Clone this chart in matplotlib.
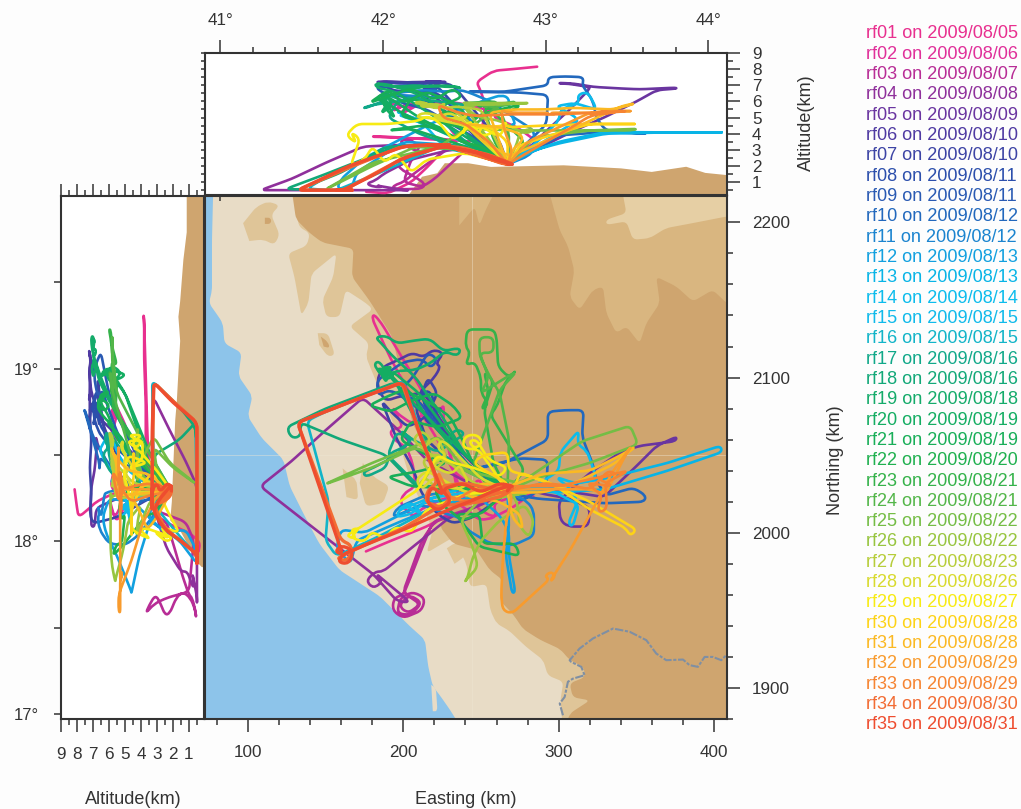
import numpy as np
import matplotlib
matplotlib.use('Agg')
import matplotlib.pyplot as plt
from matplotlib.path import Path
from matplotlib.patches import PathPatch
from matplotlib.ticker import MultipleLocator, FixedLocator

plt.rcParams['font.family'] = ['Liberation Sans', 'DejaVu Sans']

# Flight names and dates (legend on the right)
flight_names = ['rf%02d' % i for i in range(1, 36)]
flight_dates = ['2009/08/05', '2009/08/06', '2009/08/07', '2009/08/08', '2009/08/09', '2009/08/10', '2009/08/10',
                '2009/08/11', '2009/08/11', '2009/08/12', '2009/08/12', '2009/08/13', '2009/08/13', '2009/08/14',
                '2009/08/15', '2009/08/15', '2009/08/16', '2009/08/16', '2009/08/18', '2009/08/19', '2009/08/19',
                '2009/08/20', '2009/08/21', '2009/08/21', '2009/08/22', '2009/08/22', '2009/08/23', '2009/08/26',
                '2009/08/27', '2009/08/28', '2009/08/28', '2009/08/29', '2009/08/29', '2009/08/30', '2009/08/31']
flight_colors = ['#e8308f', '#e0309a', '#b82d96', '#8f309b', '#6a35a0', '#4f3aa2', '#3d44a5', '#2c4fac', '#2a5ab3',
                 '#2268bd', '#1b84cf', '#12a0df', '#08b4e6', '#0cbcec', '#10baea', '#12b4c8', '#10a889', '#12a878',
                 '#14ab6a', '#14ad62', '#18ae58', '#1fb04f', '#35b24a', '#53b649', '#74bd45', '#97c53f', '#b7cd3a',
                 '#d8da2e', '#f7eb14', '#fdd317', '#fbb923', '#f89b2d', '#f68432', '#f26c34', '#ee4d2f']

# Flight tracks: (easting km, northing km, altitude km)
rf01 = [(176,1988,.4),(190,1994,.3),(205,2000,1.0),(215,2004,1.9),(226,2010,3.0),(236,2020,3.4),(228,2064,3.6),(207,2100,3.7),
        (186,2135,3.8),(181,2141,3.85),(180,2138,3.8),(192,2112,3.8),(208,2083,3.7),(222,2060,3.7),(232,2040,3.6),(244,2030,3.5),
        (249,2035,3.8),(252,2028,5),(252,2024,6),(249,2020,6.8),(247,2016,7.2),(258,2010,7.9),(270,2016,8.0),(286,2028,8.15)]
rf02 = [(267,2027,2.1),(252,2024,3.0),(240,2020,3.4),(232,2040,4),(226,2070,5),(226,2083,5.6),(223,2077,5.9),(215,2079,5.7),
        (206,2070,5.9),(196,2077,5.6),(193,2081,5.4),(200,2068,5.7),(191,2066,5.9),(194,2060,5.5),(202,2055,5.8),(206,2045,5.6),
        (208,2030,5.9),(200,2025,5.5),(198,2019,5.2),(206,2010,5.6),(211,2015,5.9),(228,2023,6.0),(241,2015,5.8),(249,2008,5.6),
        (260,2010,5.3),(258,2019,5.0),(273,2024,4.4),(286,2023,3.5),(277,2025,3),(267,2027,2.1)]
rf03 = [(267,2027,2.1),(250,2018,3.0),(232,2012,3.3),(219,2007,2.4),(212,1990,1.9),(205,1972,1.4),(200,1960,1.0),(194,1958,.8),
        (193,1950,.6),(200,1945,.55),(212,1950,.6),(214,1958,.9),(206,1962,1.4),(198,1958,1.8),(196,1948,2.2),(205,1947,2.5),
        (212,1955,2.8),(204,1960,3.1),(197,1953,3.5),(203,1948,3.7),(211,1954,3.2),(205,1958,2.4),(200,1962,1.0),(212,1995,.7),
        (220,2007,1.2),(240,2014,3.0),(267,2027,2.1)]
rf04 = [(267,2027,2.1),(250,2018,3),(230,2010,3),(205,1990,2.4),(187,1975,1.5),(182,1975,1.1),(176,1969,.9),(181,1964,.7),
        (187,1969,.7),(182,1974,.8),(200,1959,.5),(204,1955,.5),(196,1956,.5),(181,1973,.5),(145,2001,.5),(108,2030,.5),
        (128,2046,1.2),(150,2066,2.2),(174,2087,3.2),(197,2066,3.3),(215,2047,3.2),(240,2033,3.1),(267,2027,2.1)]
rf05 = [(267,2027,2.1),(285,2028,3),(310,2026,4.2),(329,2023,5),(350,2043,6),(363,2056,6.7),(376,2062,6.8),(375,2059,6.85),
        (352,2056,6.75),(340,2052,6.8),(322,2040,6.9),(310,2030,7.1),(300,2020,7.15),(301,2008,7.1),(306,2004,7.1),(319,2004,6.9),
        (320,2016,6.8),(307,2022,5.5),(290,2025,4),(280,2028,3),(267,2027,2.1)]
rf06 = [(267,2027,2.1),(250,2040,3.5),(238,2052,4.6),(226,2066,5.8),(214,2076,6.8),(226,2081,7.2),(219,2077,7.15),(213,2075,7.2),
        (217,2070,7.25),(224,2070,7.2),(228,2066,7.2),(215,2088,7.2),(211,2090,7.15),(198,2088,7.2),(189,2085,7.25),(185,2090,7.2),
        (183,2098,7.2),(187,2107,7.2),(196,2111,7.15),(206,2116,7.2),(213,2113,7.2),(219,2118,7.25),(226,2116,7.2),(221,2109,7.15),
        (224,2107,7.2),(220,2100,7.2),(210,2090,7.1),(230,2060,6),(255,2034,3.5),(267,2027,2.1)]
rf07 = [(267,2027,2.1),(262,2022,3.5),(245,2010,5.5),(232,2006,7.0),(222,2012,7.2),(212,2025,7.1),(206,2042,7.2),(196,2060,7.1),
        (190,2075,7.2),(186,2085,7.1),(192,2078,6.7),(203,2068,6.6),(215,2075,6.6),(222,2090,6.7),(216,2100,6.7),(212,2090,6.6),
        (208,2080,6.5),(215,2060,6.2),(232,2044,5),(253,2036,3.8),(267,2027,2.1)]
rf08 = [(267,2027,2.1),(240,2050,5),(226,2062,6.5),(222,2072,6.9),(214,2082,7),(212,2089,6.9),(216,2092,6.6),(220,2086,6.9),
        (216,2078,7.1),(222,2078,6.6),(214,2075,6.9),(218,2068,7.0),(222,2082,6.7),(213,2085,6.9),(216,2074,6.7),(222,2066,6.4),
        (240,2050,5),(267,2027,2.1)]
rf09 = [(267,2027,2.1),(240,2045,4.5),(225,2065,5.5),(210,2085,6.2),(190,2092,6.4),(184,2088,6.7),(183,2098,6.9),(190,2103,6.9),
        (200,2110,7.0),(212,2112,7.0),(218,2106,6.9),(222,2112,6.7),(216,2116,6.5),(206,2100,6.2),(196,2090,6),(215,2076,5.5),
        (245,2040,3.8),(267,2027,2.1)]
rf10 = [(267,2027,2.1),(275,2020,3),(292,2030,4.6),(293,2047,6.4),(275,2048,6.55),(240,2040,6.6),(265,2045,6.6),(293,2060,7),
        (293,2078,7.5),(304,2079,7.55),(316,2079,7.5),(315,2062,7),(318,2054,6.6),(322,2044,6),(324,2034,5),(330,2024,4.2),
        (348,2029,4.05),(356,2024,4),(355,2020,4),(330,2019,4.1),(300,2021,3.9),(286,2022,3.0),(275,2024,2.6),(267,2027,2.1)]
rf11 = [(267,2027,2.1),(280,2020,2.6),(284,2014,3.0),(284,1998,4.2),(271,1992,5.0),(256,1993,6.0),(241,2002,6.6),(236,2010,6.7),
        (228,2012,6.6),(212,2018,6.7),(193,2010,6.5),(196,2016,6.4),(214,2024,6.3),(226,2026,6.2),(240,2028,5.2),(267,2027,2.1)]
rf12 = [(267,2027,2.1),(268,2005,3.5),(266,1985,4.1),(270,1961,4.6),(272,1962,4.6),(268,1985,5.5),(268,2000,6.2),(263,2010,6.4),
        (250,2022,6),(215,2020,4.5),(175,2000,2.5),(160,2002,1.2),(157,1990,.6),(166,1980,.5),(170,1995,1.6),(200,2008,3.5),
        (230,2020,3.3),(267,2027,2.1)]
rf13 = [(267,2027,2.1),(285,2028,3),(300,2030,3.4),(330,2035,4),(370,2045,4.08),(404,2056,4.08),(405,2052,4.08),(370,2040,4.08),
        (330,2028,4.1),(300,2026,3.5),(280,2027,2.8),(267,2027,2.1)]
rf14 = [(267,2027,2.1),(285,2030,3.4),(300,2040,4.8),(301,2052,5.5),(313,2066,5.9),(312,2057,6.4),(318,2053,6.6),(322,2042,6.0),
        (324,2034,5.5),(310,2032,5.9),(298,2036,5.7),(308,2028,5.2),(312,2020,4.9),(306,2006,4.6),(309,2004,4.6),(313,2018,4.9),
        (290,2030,3.5),(267,2027,2.1)]
rf15 = [(267,2027,2.1),(245,2030,3.2),(225,2025,3.3),(214,2020,4.5),(205,2012,5),(195,2010,5.4),(200,2018,5.2),(212,2012,4.8),
        (205,2020,5),(196,2014,5.2),(216,2022,4.5),(240,2026,3.4),(258,2026,2.5),(267,2027,2.1)]
rf16 = [(267,2027,2.1),(245,2020,3),(223,2018,3.2),(185,1998,1.6),(157,1985,.5),(150,1995,.5),(152,2020,.5),(138,2072,.6),
        (150,2078,1.3),(200,2098,3.3),(223,2030,3.2),(250,2026,2.6),(267,2027,2.1)]
rf17 = [(267,2027,2.1),(240,2040,3.5),(222,2053,5),(234,2067,5.6),(240,2064,5.8),(222,2052,6),(206,2060,6.2),(198,2066,6.1),
        (206,2060,6.3),(200,2055,6.0),(191,2051,6.4),(189,2042,6.1),(176,2036,5.6),(174,2039,5.6),(181,2042,5.8),(196,2050,6),
        (205,2060,6.1),(196,2065,6),(190,2050,5),(210,2030,4),(240,2028,3),(267,2027,2.1)]
rf18 = [(267,2027,2.1),(240,2030,3),(208,2030,3.2),(189,2050,3.2),(160,2060,1.6),(134,2071,.6),(134,2062,.55),(128,2061,.55),
        (125,2068,.6),(150,2080,1.5),(195,2097,3.2),(215,2060,3.3),(222,2030,3.3),(250,2027,2.6),(267,2027,2.1)]
rf19 = [(267,2027,2.1),(240,2050,4),(225,2075,5.5),(208,2100,6.5),(192,2115,7),(186,2122,7.1),(182,2126,7.1),(189,2127,7),
        (196,2122,6.9),(208,2124,7),(217,2125,6.9),(226,2117,7),(235,2119,6.9),(237,2117,6.8),(234,2114,6.9),(227,2117,6.9),
        (217,2109,7),(208,2105,6.8),(194,2104,6.9),(188,2100,7.0),(181,2108,7.1),(184,2111,6.8),(192,2100,6.7),(205,2085,6),
        (240,2050,3.8),(267,2027,2.1)]
rf20 = [(267,2027,2.1),(240,2045,3.5),(215,2075,4.5),(205,2090,5),(195,2098,5.5),(190,2105,5.9),(182,2106,6.2),(188,2100,6.5),
        (193,2108,5.8),(185,2103,5.2),(190,2096,5.9),(187,2106,6.3),(195,2102,4.9),(188,2098,5.6),(186,2106,6.3),(192,2100,6.5),
        (184,2104,6.2),(191,2108,5.5),(187,2101,6.4),(193,2104,6.1),(210,2090,5),(240,2050,3.4),(267,2027,2.1)]
rf21 = [(267,2027,2.1),(245,2044,4),(238,2060,5.5),(230,2075,6.0),(215,2085,6.6),(200,2092,5.9),(190,2088,6.7),(178,2082,5.9),
        (192,2078,6.4),(205,2085,6.8),(220,2090,6.1),(232,2082,6.8),(238,2074,6.3),(222,2068,5.6),(205,2072,6.2),(198,2060,5.1),
        (215,2050,4.7),(228,2045,4.2),(212,2040,4.5),(190,2036,4.2),(205,2030,4.3),(240,2028,3.2),(267,2027,2.1)]
rf22 = [(267,2027,2.1),(250,2012,3.2),(234,2012,3.6),(249,1991,5.2),(275,1985,5.8),(272,1993,5.5),(251,1993,5.2),(249,2012,5),
        (238,2008,5.2),(225,2018,5.4),(220,2028,4.8),(245,2030,4.2),(255,2024,3.5),(267,2027,2.1)]
rf23 = [(267,2027,2.1),(278,2040,3.5),(256,2076,5.5),(260,2081,5.7),(266,2098,5.9),(273,2105,6),(268,2100,5.8),(261,2107,5.7),
        (260,2126,5.9),(258,2131,6),(241,2131,5.9),(240,2120,5.8),(243,2116,5.7),(240,2108,5.5),(246,2110,5.9),(250,2100,5.6),
        (250,2090,5.9),(255,2083,5.5),(250,2079,5.8),(255,2090,5.6),(252,2104,5.8),(258,2098,5.5),(252,2079,5.6),(258,2045,3.6),
        (267,2027,2.1)]
rf24 = [(267,2027,2.1),(268,2060,4),(262,2090,5.5),(256,2100,5.7),(250,2112,5.8),(249,2116,5.8),(249,2126,5.8),(258,2126,5.8),
        (258,2116,5.8),(249,2116,5.8),(255,2100,5.6),(250,2090,5.8),(266,2100,5.9),(273,2104,5.9),(262,2092,5.8),(245,2045,4.5),
        (260,2020,3),(267,2027,2.1)]
rf25 = [(267,2027,2.1),(240,2040,3),(208,2055,3.2),(180,2042,2),(149,2031,.5),(180,2045,2.2),(223,2062,3.2),(240,2040,4.3),
        (275,2032,4.2),(315,2059,4.2),(346,2069,4.2),(351,2057,4.3),(320,2045,4.2),(285,2035,3.8),(267,2027,2.1)]
rf26 = [(267,2027,2.1),(273,2021,3.4),(275,2004,4.1),(281,1997,4.3),(284,2008,4.2),(278,2018,4),(262,2008,4.8),(250,1995,5),
        (245,1985,5.2),(241,1970,5.6),(239,1968,5.6),(248,1978,5.8),(245,1990,5.9),(237,2008,5.9),(250,2022,5.9),(265,2024,5.9),
        (282,2026,5.9),(258,2022,5.8),(238,2024,5.8),(267,2027,2.1)]
rf27 = [(267,2027,2.1),(245,2032,4.5),(230,2045,5.6),(218,2050,5.8),(206,2060,5.9),(212,2066,6.0),(218,2060,5.7),(212,2054,5.9),
        (222,2062,5.7),(228,2048,5.9),(222,2042,5.6),(218,2038,5.7),(212,2046,5.9),(218,2050,5.6),(225,2050,5.6),(210,2030,5.8),
        (214,2036,5.6),(222,2028,5.9),(226,2034,5.5),(232,2030,5.7),(250,2022,5.5),(267,2027,2.1)]
rf28 = [(267,2027,2.1),(250,2035,4),(235,2050,5),(230,2056,5.3),(224,2060,5.1),(222,2054,5.2),(228,2050,4.9),(218,2045,5.1),
        (224,2040,4.8),(232,2038,5),(236,2044,4.8),(242,2032,5.2),(236,2028,4.9),(225,2030,5),(220,2036,5.2),(212,2028,5.3),
        (208,2034,5),(215,2040,5),(240,2026,4.5),(267,2027,2.1)]
rf29 = [(267,2027,2.1),(258,2040,3.0),(248,2054,4.2),(240,2054,4.5),(238,2058,3.9),(241,2063,4.8),(248,2063,3.9),(251,2058,4.6),
        (246,2054,4.2),(242,2059,4.9),(247,2060,3.9),(255,2047,3.9),(267,2042,4.8),(262,2036,3.8),(245,2042,4.7),(232,2045,3.6),
        (222,2050,4.8),(215,2038,5.1),(210,2028,4.8),(190,2015,4.6),(170,2002,4.6),(163,1998,3.9),(170,1996,3.4),(166,2002,4.1),
        (172,2003,3.7),(166,1997,2),(175,1994,2.4),(180,2001,3.2),(188,1996,2.2),(195,2004,2.8),(205,2000,1.6),(215,2015,2.4),
        (240,2025,2.8),(267,2027,2.1)]
rf30 = [(267,2027,2.1),(272,2030,2.8),(275,2039,3.3),(298,2030,4),(320,2015,4.6),(343,2003,4.6),(346,1998,4.6),(350,2002,4.6),
        (320,2020,4.6),(290,2034,4.5),(268,2040,4.4),(267,2052,4.5),(251,2050,4.4),(245,2045,4.5),(256,2038,4.4),(267,2032,3.5),
        (267,2027,2.1)]
rf31 = [(267,2027,2.1),(270,2010,3),(277,2002,3.6),(275,2012,4),(262,2020,4.4),(240,2024,4.6),(250,2032,3.6),(268,2030,2.6),
        (290,2038,3.5),(320,2040,4.8),(340,2050,5.7),(350,2056,5.9),(335,2044,5.5),(310,2032,5.6),(290,2026,5.5),(270,2026,5.5),
        (255,2024,5.3),(267,2027,2.1)]
rf32 = [(267,2027,2.1),(270,2024,3),(266,2006,3.9),(264,1982,4.6),(263,1960,5.4),(264,1950,5.4),(270,1948,5.3),(294,1970,5.3),
        (291,1972,5.2),(295,1975,5.2),(298,1972,5.2),(294,1968,5.3),(308,1990,5.3),(324,2019,5.3),(335,2040,5.4),(347,2056,5.4),
        (344,2052,5.4),(330,2025,5.4),(320,2028,5.3),(280,2028,3.5),(267,2027,2.1)]
rf33 = [(267,2027,2.1),(290,2032,3.4),(310,2030,4.5),(320,2028,5.1),(332,2040,5.3),(337,2038,5.3),(325,2035,5.4),(335,2030,5.3),
        (318,2032,5.2),(328,2024,5.3),(325,2016,5.3),(327,2013,5.3),(331,2016,5.2),(330,2032,5.3),(345,2040,5.4),(300,2030,5.2),
        (270,2030,5.2),(245,2028,5.1),(232,2020,5.4),(222,2040,5.8),(225,2025,5),(240,2020,4.6),(255,2024,3.5),(267,2027,2.1)]
rf34 = [(267,2027,2.1),(268,2032,2.2),(255,2024,2.7),(240,2018,3),(225,2018,3.2),(200,2003,2.5),(175,1992,1.2),(162,1986,.5),
        (157,1983,.5),(165,1982,.5),(167,1992,.5),(160,1995,.5),(132,2071,.5),(165,2084,1.9),(199,2097,3.2),(222,2032,3.3),
        (216,2028,3.3),(214,2020,3.3),(225,2016,3.3),(231,2024,3.3),(224,2030,3.3),(240,2032,3.1),(258,2028,2.5),(272,2030,2.1),
        (265,2024,2.1),(250,2020,2.6),(232,2018,3.1),(267,2027,2.1)]
rf35 = [(267,2027,2.1),(270,2031,2.1),(258,2027,2.4),(245,2021,2.9),(232,2016,3.1),(225,2013,3.2),(200,2002,2.5),(180,1994,1.4),
        (161,1986,.5),(158,1981,.5),(165,1980,.5),(168,1988,.5),(161,1992,.5),(156,1988,.5),(161,1986,.5),(132,2071,.5),
        (165,2084,2),(200,2097,3.2),(210,2065,3.3),(226,2024,3.3),(218,2030,3.3),(215,2020,3.3),(222,2014,3.3),(231,2020,3.3),
        (225,2028,3.3),(238,2032,3.0),(250,2026,2.8),(262,2032,2.4),(270,2030,2.1)]

flights = [rf01, rf02, rf03, rf04, rf05, rf06, rf07, rf08, rf09, rf10, rf11, rf12, rf13, rf14, rf15, rf16, rf17, rf18,
           rf19, rf20, rf21, rf22, rf23, rf24, rf25, rf26, rf27, rf28, rf29, rf30, rf31, rf32, rf33, rf34, rf35]

# Terrain outlines in the map (easting km, northing km)
sea = [(60,2230),(78,2230),(77,2189),(77,2156),(75,2148),(80,2141),(84,2135),(85,2122),(96,2116),(94,2101),(103,2088),(100,2075),
       (109,2061),(117,2053),(123,2047),(127,2030),(136,2012),(146,1993),(159,1976),(185,1959),(204,1940),(214,1931),(216,1914),
       (219,1901),(223,1896),(230,1886),(240,1870),(60,1870)]
sand_spit = [(218,1902),(221,1900),(222,1885),(219,1885)]
tan_belt = [(118,2230),(127,2230),(133,2197),(140,2193),(138,2185),(126,2180),(130,2165),(134.5,2140),(139,2148),(141,2167),
            (157,2180),(155,2165),(148,2150),(150.5,2139),(159,2139),(163,2156.5),(176,2148),(180.5,2144),(165.5,2133),(178,2122),
            (176,2113.5),(193.5,2070.5),(204,2036),(219,2002),(215,1987),(232,1997),(240.6,1980),(243,1965),(253.5,1967),(256,1950),
            (260,1941.5),(268,1937),(279,1926.5),(290,1918),(293,1908),(303,1904),(301,1892),(303,1870),(340,1870),(340,2100),(180,2200)]
tan_patch1 = [(97,2199.5),(105.5,2210),(113,2213.5),(120.5,2211),(115,2205),(120.5,2192),(117,2185.5),(110,2189),(101,2188)]
tan_patch2 = [(145,2128.6),(151.6,2128.6),(156,2114.6),(151.6,2113.5),(146,2121)]
tan_patch3 = [(174,2045),(181,2036),(191,2030),(187,2019),(176,2017),(172,2032)]
tan_patch4 = [(161,2041.5),(170,2034),(171,2021),(163.5,2023)]
tan_patch5 = [(228,1990),(234,1994),(240,1985),(233,1980)]
brown_dot1 = [(147,2126.4),(151.6,2123),(152.7,2119),(148.8,2120)]
brown_dot2 = [(111,2203),(115,2203),(115,2199),(111,2199)]
brown_land = [(127,2230),(131,2202),(140,2193),(148,2187),(168,2183),(167,2165),(178,2150),(185,2139),(193,2126),(206,2070.5),
              (215,2053),(223.5,2036),(228,2014.6),(223.5,2004),(232,1993),(247,1989),(255.6,1976),(264,1969.5),(262,1956.6),
              (271,1947),(277,1938),(288,1931),(301,1925),(307,1918),(316,1913.6),(317,1907),(307,1903),(309,1894),(320,1892),
              (307,1883.5),(303,1870),(420,1870),(420,2230)]
high_land = [(291,2230),(300.6,2195),(306,2184.5),(310,2169),(307,2152),(313.4,2143.6),(322,2156.5),(328.5,2158.7),(330.6,2141.5),
             (337,2128.6),(343.5,2133),(352,2122),(356.3,2135),(365,2148),(362.7,2165),(375.6,2158.7),(386.3,2149),(399,2156.5),
             (408,2148),(420,2140),(420,2230)]
high_land2 = [(236,2230),(264,2230),(253,2208),(249,2198),(246,2210),(236,2198)]
top_land = [(339,2230),(343.5,2206),(330.6,2201.7),(330.6,2198.4),(343.5,2200.6),(347.7,2188.8),(358.5,2189.8),(369,2196.3),
            (386,2199.5),(408,2203.8),(420,2205),(420,2230)]
border_line = [(302.7,1882.4),(300.6,1890),(303.8,1894.2),(305.9,1904),(309.1,1906),(316.6,1908.2),(314.5,1913.6),(308,1916.8),
               (307,1917.9),(313.4,1925.4),(322,1931.9),(334.9,1938.3),(345.6,1936.2),(356.3,1930.8),(362.7,1922.2),(369.1,1917.9),
               (379.9,1918.3),(384.1,1914.7),(389.5,1913.6),(393.8,1920),(399.1,1920),(404.5,1917.9),(408.8,1922.2)]

# Terrain cross sections for the side panels
top_profile_lon = [42.05, 42.158, 42.24, 42.334, 42.38, 42.523, 42.664, 43.111, 43.464, 43.653, 43.865, 43.982, 44.119, 44.119]
top_profile_alt = [0.2, 0.2, 1.33, 1.55, 2.17, 2.17, 1.94, 2.04, 1.85, 1.63, 1.95, 1.57, 1.43, 0.2]
side_profile_alt = [0, 1.14, 1.14, 1.35, 1.55, 1.66, 1.55, 1.66, 1.76, 1.86, 1.97, 2.07, 2.17, 1.6, 0.9, 0.5, 0.2, 0]
side_profile_lat = [20, 20, 19.79, 19.63, 19.39, 19.3, 19.16, 18.98, 18.81, 18.7, 18.46, 18.23, 18.12, 18.07, 17.95, 17.88, 17.85, 17.85]

SEA, SAND, TAN, BROWN, HIGH, TOP = '#8dc4ea', '#e8dcc6', '#dfc598', '#cfa56f', '#d9b680', '#e6cfa4'
INK = '#333333'
W, H = 1021.0, 809.0


def lon_of(e):
    return 41.17 + (np.asarray(e, dtype=float) - 100) / 104.6


def e_of(lon):
    return 100 + (np.asarray(lon, dtype=float) - 41.17) * 104.6


def lat_of(n):
    return 18.049 + (np.asarray(n, dtype=float) - 2000) / 111.3


def n_of(lat):
    return 2000 + (np.asarray(lat, dtype=float) - 18.049) * 111.3


def panel(x0, y0, x1, y1):
    # box given in picture pixels, y going down
    a = fig.add_axes([x0 / W, 1 - y1 / H, (x1 - x0) / W, (y1 - y0) / H])
    for s in a.spines.values():
        s.set_linewidth(1.5)
        s.set_color(INK)
    return a


def rounded(x, y, sx, sy, r=6.0):
    # path through the points with corners eased off; sx, sy = pixels per data unit
    pts = np.column_stack([np.asarray(x, dtype=float) * sx, np.asarray(y, dtype=float) * sy])
    verts = [pts[0]]
    codes = [Path.MOVETO]
    for a, v, b in zip(pts[:-2], pts[1:-1], pts[2:]):
        da = max(np.hypot(*(a - v)), 1e-6)
        db = max(np.hypot(*(b - v)), 1e-6)
        verts += [v + (a - v) * min(0.5, r / da), v, v + (b - v) * min(0.5, r / db)]
        codes += [Path.LINETO, Path.CURVE3, Path.CURVE3]
    verts.append(pts[-1])
    codes.append(Path.LINETO)
    return Path(np.array(verts) / [sx, sy], codes)


fig = plt.figure(figsize=(10.21, 8.09), dpi=100, facecolor='#fdfdfd')
ax_map = panel(205, 196, 727, 719)
ax_top = panel(205, 53, 727, 195)
ax_side = panel(61, 196, 204, 719)

# Map panel
ax_map.set_facecolor(SAND)
ax_map.set_xlim(72.5, 408.2)
ax_map.set_ylim(1880, 2217)
for shape, col in [(sea, SEA), (sand_spit, SAND), (tan_belt, TAN), (tan_patch1, TAN), (tan_patch2, TAN), (tan_patch3, TAN),
                   (tan_patch4, TAN), (tan_patch5, TAN), (brown_dot1, BROWN), (brown_dot2, BROWN), (brown_land, BROWN),
                   (high_land, HIGH), (high_land2, HIGH), (top_land, TOP)]:
    xy = np.array(shape)
    ax_map.add_patch(PathPatch(rounded(xy[:, 0], xy[:, 1], 1.555, 1.55, r=5), fc=col, ec='none', lw=0))
ax_map.axvline(244, color='#efe6d4', lw=0.6, alpha=0.5)
ax_map.axhline(2050, color='#efe6d4', lw=0.6, alpha=0.5)
xy = np.array(border_line)
ax_map.plot(xy[:, 0], xy[:, 1], color='#7f8fa3', lw=1.5, ls=(0, (4, 0.8, 1.5, 0.8)))

# Side panels
ax_top.set_facecolor('white')
ax_top.set_xlim(40.905, 44.116)
ax_top.set_ylim(0.2, 9)
ax_top.fill(top_profile_lon, top_profile_alt, color=BROWN, lw=0)
ax_side.set_facecolor('white')
ax_side.set_xlim(8.94, 0.06)
ax_side.set_ylim(16.97, 20)
ax_side.fill(side_profile_alt, side_profile_lat, color=BROWN, lw=0)

# Tracks, first flight at the bottom
for i, (track, col) in enumerate(zip(flights, flight_colors)):
    t = np.array(track, dtype=float)
    lw = 2.4 if i >= 33 else 1.9
    kw = dict(fc='none', ec=col, lw=lw, capstyle='round', joinstyle='round', zorder=3 + i * 0.01)
    ax_map.add_patch(PathPatch(rounded(t[:, 0], t[:, 1], 1.555, 1.55), **kw))
    ax_top.add_patch(PathPatch(rounded(lon_of(t[:, 0]), t[:, 2], 162.6, 16.3), **kw))
    ax_side.add_patch(PathPatch(rounded(t[:, 2], lat_of(t[:, 1]), 16.1, 172.6), **kw))

# Map ticks
ax_map.xaxis.set_major_locator(MultipleLocator(100))
ax_map.xaxis.set_minor_locator(MultipleLocator(20))
ax_map.yaxis.set_major_locator(MultipleLocator(100))
ax_map.yaxis.set_minor_locator(MultipleLocator(20))
ax_map.yaxis.tick_right()
ax_map.tick_params(which='major', length=9.4, width=1.1, color=INK, labelsize=12.3, labelcolor=INK)
ax_map.tick_params(which='minor', length=4.5, width=1.1, color=INK)
ax_map.tick_params(axis='x', which='major', pad=9)
ax_map.tick_params(axis='y', which='major', pad=8.5)
sec_x = ax_map.secondary_xaxis('top', functions=(lon_of, e_of))
sec_x.xaxis.set_major_locator(MultipleLocator(0.5))
sec_x.tick_params(direction='in', length=3.5, width=1.1, color=INK, labeltop=False)
sec_x.spines['top'].set_visible(False)
sec_y = ax_map.secondary_yaxis('left', functions=(lat_of, n_of))
sec_y.yaxis.set_major_locator(MultipleLocator(0.5))
sec_y.tick_params(direction='in', length=3.5, width=1.1, color=INK, labelleft=False)
sec_y.spines['left'].set_visible(False)

# Top panel ticks
ax_top.xaxis.tick_top()
ax_top.yaxis.tick_right()
ax_top.xaxis.set_minor_locator(MultipleLocator(0.2))
ax_top.set_xticks([41, 42, 43, 44])
ax_top.set_xticklabels(['41°', '42°', '43°', '44°'])
ax_top.set_yticks(range(1, 10))
ax_top.yaxis.set_minor_locator(MultipleLocator(0.5))
ax_top.tick_params(which='major', length=9.4, width=1.1, color=INK, labelsize=12.3, labelcolor=INK, pad=8.5)
ax_top.tick_params(which='minor', length=4, width=1.1, color=INK)
sec_a = ax_top.secondary_yaxis('left')
sec_a.yaxis.set_major_locator(MultipleLocator(0.5))
sec_a.tick_params(length=3, width=1.1, color=INK, labelleft=False)
sec_a.spines['left'].set_visible(False)

# Left panel ticks
ax_side.set_xticks(range(1, 10))
ax_side.xaxis.set_minor_locator(MultipleLocator(0.5))
ax_side.tick_params(axis='x', which='major', length=9, width=1.1, color=INK, labelsize=12.3, labelcolor=INK, pad=11, top=True)
ax_side.tick_params(axis='x', which='minor', length=4, width=1.1, color=INK, top=True)
ax_side.yaxis.set_major_locator(FixedLocator([17, 17.5, 18, 18.5, 19, 19.5]))
ax_side.set_yticklabels(['17°', '', '18°', '', '19°', ''])
ax_side.tick_params(axis='y', which='major', length=5, width=1.1, color=INK, labelsize=12, labelcolor=INK, pad=11)

# Axis titles as placed in the figure
lab = dict(color=INK, fontsize=13, ha='center', va='center')
fig.text(133 / W, 1 - 799 / H, 'Altitude(km)', **lab)
fig.text(466 / W, 1 - 799 / H, 'Easting (km)', **lab)
fig.text(806 / W, 1 - 123 / H, 'Altitude(km)', rotation=90, **lab)
fig.text(835 / W, 1 - 460 / H, 'Northing (km)', rotation=90, **lab)

# Legend text
for i, (name, date, col) in enumerate(zip(flight_names, flight_dates, flight_colors)):
    fig.text(866 / W, 1 - (34 + i * 20.32) / H, name + ' on ' + date, color=col, fontsize=13.1, ha='left', va='center')

fig.savefig('out.png', dpi=100, facecolor=fig.get_facecolor())
